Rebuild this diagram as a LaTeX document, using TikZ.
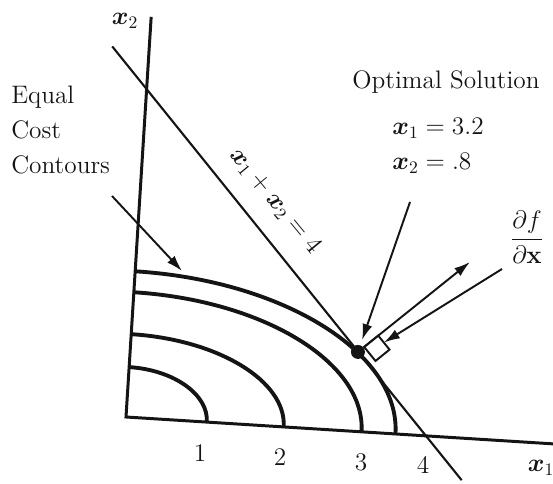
\documentclass[tikz,border=0pt]{standalone}
\usepackage{amsmath}
\usepackage{bm}
\usepackage{xcolor}
\definecolor{ink}{RGB}{20,20,20}
\usetikzlibrary{arrows.meta}
\tikzset{
  axisline/.style={draw=ink, line width=1.7pt, line join=miter},
  contour/.style={draw=ink, line width=2.2pt},
  constraint/.style={draw=ink, line width=1.2pt},
  arr/.style={draw=ink, line width=1.1pt, -{Latex[length=3.2mm,width=2mm]}},
  optdot/.style={circle, fill=ink, inner sep=0pt, minimum size=0.28cm},
  rightbox/.style={draw=ink, line width=1.1pt, fill=white},
  lbl/.style={text=ink, font=\fontsize{14.4}{20}\selectfont, inner sep=0pt},
}

\begin{document}
\begin{tikzpicture}[x=0.02cm, y=0.02cm]
\useasboundingbox (0,0) rectangle (553,483);
\begin{scope}[shift={(126,66)}, rotate=-3.6]
  \coordinate (orig) at (0,0);
  \coordinate (yend) at (0,401);
  \coordinate (xend) at (430,0);
  \draw[axisline] (yend) -- (orig) -- (xend);
  \foreach \a/\b in {81/50, 158/83, 236/125, 270/146}
    \draw[contour] (\a,0) arc[start angle=0, end angle=90, x radius=\a, y radius=\b];
  \coordinate (la) at (-37,369);
  \coordinate (lb) at (339,-42);
  \draw[constraint] (la) -- (lb);
  \coordinate (c1) at (233.3,84.9);
  \coordinate (c2) at (246.6,97.1);
  \coordinate (c3) at (258.8,83.8);
  \coordinate (c4) at (245.5,71.6);
  \coordinate (bmid) at (252.7,90.5);
  \draw[rightbox] (c1) -- (c2) -- (c3) -- (c4) -- cycle;
  \node[optdot] (opt) at (227.4,79.5) {};
\end{scope}

\node[lbl] (xtwo) at (125,462) {$\bm{x}_2$};
\node[lbl] (xone) at (541,15) {$\bm{x}_1$};
\foreach \t/\x/\y in {1/200/30, 2/280/26, 3/361/21, 4/423/18}
  \node[lbl] (tick\t) at (\x,\y) {\t};
\node[lbl, rotate=-50.5] (cline) at (275,282) {$\bm{x}_1 + \bm{x}_2 = 4$};

\node[lbl, align=left, anchor=west] (contours) at (11,353) {Equal\\Cost\\Contours};
\coordinate (cstart) at (112,287);
\coordinate (ctip) at (182,212);
\draw[arr] (cstart) -- (ctip);

\node[lbl] (optsol) at (446,401) {Optimal Solution};
\node[lbl, anchor=west] (xsol) at (392,355) {$\bm{x}_1 = 3.2$};
\node[lbl, anchor=west] (ysol) at (392,320) {$\bm{x}_2 = .8$};
\coordinate (pstart) at (410,281);
\draw[arr, shorten >=3pt] (pstart) -- (opt);

\node[lbl] (grad) at (527,246) {$\dfrac{\partial f}{\partial \mathbf{x}}$};
\coordinate (gtip) at (470,221);
\coordinate (gfrom) at (502,214);
\draw[arr] (opt) -- (gtip);
\draw[arr] (gfrom) -- (bmid);
\end{tikzpicture}
\end{document}
